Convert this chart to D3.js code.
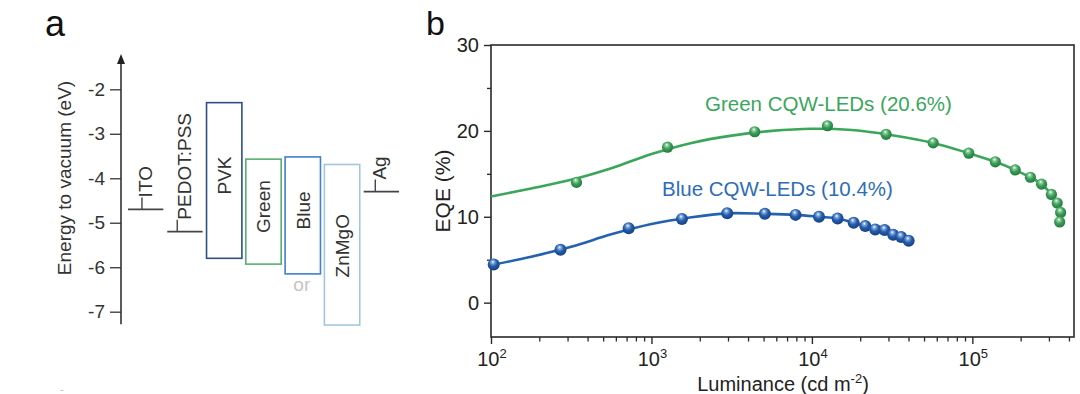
<!DOCTYPE html>
<html><head><meta charset="utf-8">
<script src="https://cdn.jsdelivr.net/npm/d3@7"></script>
<style>
body{margin:0;background:#fff}
svg{display:block;font-family:"Liberation Sans",Arial,Helvetica,sans-serif}
</style>
</head><body>
<svg id="c" width="1080" height="394"></svg>
<script>
// ---------- Panel a data ----------
const energyTicks = [-2, -3, -4, -5, -6, -7];
const layerNames = ["ITO", "PEDOT:PSS", "PVK", "Green", "Blue", "ZnMgO", "Ag"];
const electrodeNames = ["ITO", "PEDOT:PSS", "Ag"];
const electrodeLevels = [-4.7, -5.2, -4.3];
const boxNames = ["PVK", "Green", "Blue", "ZnMgO"];
const boxLUMO = [-2.3, -3.57, -3.52, -3.69];
const boxHOMO = [-5.8, -5.93, -6.15, -7.3];

// ---------- Panel b data ----------
const xTickExponents = [2, 3, 4, 5];
const yTicksB = [0, 10, 20, 30];
const yMinorB = [5, 15, 25];
const greenL   = [341, 1260, 4400, 12500, 29000, 57000, 95000, 139000, 185000, 230000, 270000, 311000, 338000, 355000, 350000];
const greenEQE = [14.0, 18.1, 19.9, 20.6, 19.6, 18.6, 17.4, 16.4, 15.45, 14.6, 13.8, 12.6, 11.6, 10.5, 9.4];
const greenFitL   = [100, 178, 316, 562, 1000, 1778, 3162, 5623, 10000, 17783, 31623, 57000, 95000, 139000, 185000, 230000, 270000, 311000, 338000, 355000, 350000];
const greenFitEQE = [12.35, 13.3, 14.3, 15.65, 17.3, 18.6, 19.45, 20.0, 20.25, 20.1, 19.5, 18.6, 17.4, 16.4, 15.45, 14.6, 13.8, 12.6, 11.6, 10.5, 9.4];
const blueL   = [104, 271, 721, 1549, 2966, 5093, 7910, 11070, 14460, 18200, 21500, 24800, 28400, 32100, 36000, 40100];
const blueEQE = [4.45, 6.15, 8.67, 9.74, 10.4, 10.34, 10.22, 10.0, 9.8, 9.31, 8.92, 8.53, 8.45, 7.91, 7.64, 7.21];
const blueFitL   = [100, 178, 316, 562, 1000, 1778, 2966, 5093, 7910, 11070, 14460, 18200, 21500, 24800, 28400, 32100, 36000, 40100];
const blueFitEQE = [4.36, 5.35, 6.5, 7.95, 9.15, 9.95, 10.4, 10.34, 10.22, 10.0, 9.8, 9.31, 8.92, 8.6, 8.35, 7.93, 7.6, 7.21];
const greenLabel = "Green CQW-LEDs (20.6%)";
const blueLabel = "Blue CQW-LEDs (10.4%)";

const svg = d3.select("#c");
const axisColor = "#2a2a2a";

// ================= Panel a =================
const yA = d3.scaleLinear().domain([-2, -7]).range([89.3, 311.7]);
const xA = d3.scaleBand().domain(layerNames).range([126, 401]).paddingInner(0.1).paddingOuter(0.05);
const gA = svg.append("g");

gA.append("text").attr("x", 45).attr("y", 36).attr("font-size", 36).attr("fill", "#111").text("a");

const axA = gA.append("g").attr("transform", "translate(121,0)")
  .call(d3.axisLeft(yA).tickValues(energyTicks).tickSize(11).tickPadding(5).tickFormat(d => String(d)));
axA.select(".domain").remove();
axA.selectAll(".tick line").attr("stroke", "#444").attr("stroke-width", 1.4);
axA.selectAll(".tick text").attr("font-size", 19).attr("fill", "#333").attr("font-family", "Liberation Sans, Arial, sans-serif");
gA.append("line").attr("x1", 121).attr("x2", 121).attr("y1", yA(-7.28)).attr("y2", 62)
  .attr("stroke", "#333").attr("stroke-width", 1.6);
gA.append("path").attr("d", "M121,54 L117,64 L125,64 Z").attr("fill", "#222");

gA.append("text").attr("transform", "translate(64,178) rotate(-90)")
  .attr("text-anchor", "middle").attr("dy", "0.35em").attr("font-size", 19).attr("fill", "#333")
  .text("Energy to vacuum (eV)");

// electrode levels
const elOffsets = {"ITO": [14, 24], "PEDOT:PSS": [10, 24], "Ag": [11.6, 22.6]};
electrodeNames.forEach((n, i) => {
  const x0 = xA(n), w = xA.bandwidth(), y = yA(electrodeLevels[i]);
  gA.append("line").attr("x1", x0).attr("x2", x0 + w).attr("y1", y).attr("y2", y)
    .attr("stroke", "#444").attr("stroke-width", 1.6);
  const bx = x0 + elOffsets[n][0];
  gA.append("line").attr("x1", bx).attr("x2", bx).attr("y1", y).attr("y2", y - 12)
    .attr("stroke", "#444").attr("stroke-width", 1.4);
  gA.append("text").attr("transform", "translate(" + (x0 + elOffsets[n][1]) + "," + (y - 12) + ") rotate(-90)")
    .attr("font-size", 19).attr("fill", "#333").text(n);
});

// boxes
const boxColors = {"PVK": "#2f4f86", "Green": "#55b06e", "Blue": "#3f7fcf", "ZnMgO": "#a3c6de"};
boxNames.forEach((n, i) => {
  const x0 = xA(n), w = xA.bandwidth();
  const y1 = yA(boxLUMO[i]), y2 = yA(boxHOMO[i]);
  gA.append("rect").attr("x", x0).attr("y", y1).attr("width", w).attr("height", y2 - y1)
    .attr("fill", "none").attr("stroke", boxColors[n]).attr("stroke-width", 1.6);
  const cy = (y1 + y2) / 2 - (n === "ZnMgO" ? -1 : 5);
  gA.append("text").attr("transform", "translate(" + (x0 + w / 2) + "," + cy + ") rotate(-90)")
    .attr("text-anchor", "middle").attr("dy", "0.36em").attr("font-size", 19).attr("fill", "#333").text(n);
});
gA.append("text").attr("x", xA("Blue") + xA.bandwidth() / 2 - 1).attr("y", yA(-6.15) + 17)
  .attr("text-anchor", "middle").attr("font-size", 19).attr("fill", "#c4c4c4").text("or");
gA.append("text").attr("x", 62).attr("y", 393).attr("text-anchor", "middle")
  .attr("font-size", 10).attr("fill", "#bbb").text("-");

// ================= Panel b =================
const xB = d3.scaleLog().domain([100, 430000]).range([491, 1074]);
const yB = d3.scaleLinear().domain([-4, 30]).range([337, 45]);
const gB = svg.append("g");

gB.append("text").attr("x", 426).attr("y", 35).attr("font-size", 34).attr("fill", "#111").text("b");

const xMinor = [];
[100, 1000, 10000, 100000].forEach(dec => { for (let k = 2; k <= 9; k++) { const v = dec * k; if (v < 430000) xMinor.push(v); } });
const axXm = gB.append("g").attr("transform", "translate(0,337)")
  .call(d3.axisBottom(xB).tickValues(xMinor).tickSize(4.5).tickFormat(""));
axXm.select(".domain").remove();
axXm.selectAll("line").attr("stroke", axisColor).attr("stroke-width", 1.3);

const axX = gB.append("g").attr("transform", "translate(0,337)")
  .call(d3.axisBottom(xB).tickValues(xTickExponents.map(e => Math.pow(10, e))).tickSize(7).tickFormat(""));
axX.select(".domain").remove();
axX.selectAll("line").attr("stroke", axisColor).attr("stroke-width", 1.4);
xTickExponents.forEach(e => {
  const t = gB.append("text").attr("x", xB(Math.pow(10, e)) + 1).attr("y", 366)
    .attr("text-anchor", "middle").attr("font-size", 20).attr("fill", "#222");
  t.append("tspan").text("10");
  t.append("tspan").attr("dy", -8).attr("font-size", 13).text(String(e));
});

const axYm = gB.append("g").attr("transform", "translate(491,0)")
  .call(d3.axisLeft(yB).tickValues(yMinorB).tickSize(4).tickFormat(""));
axYm.select(".domain").remove();
axYm.selectAll("line").attr("stroke", axisColor).attr("stroke-width", 1.3);
const axY = gB.append("g").attr("transform", "translate(491,0)")
  .call(d3.axisLeft(yB).tickValues(yTicksB).tickSize(7).tickPadding(5));
axY.select(".domain").remove();
axY.selectAll("line").attr("stroke", axisColor).attr("stroke-width", 1.4);
axY.selectAll("text").attr("font-size", 20).attr("fill", "#222").attr("font-family", "Liberation Sans, Arial, sans-serif");

gB.append("rect").attr("x", xB.range()[0]).attr("y", yB.range()[1])
  .attr("width", xB.range()[1] - xB.range()[0]).attr("height", yB.range()[0] - yB.range()[1])
  .attr("fill", "none").attr("stroke", axisColor).attr("stroke-width", 1.6);

const xt = gB.append("text").attr("x", 783).attr("y", 391).attr("text-anchor", "middle")
  .attr("font-size", 20).attr("fill", "#222");
xt.append("tspan").text("Luminance (cd m");
xt.append("tspan").attr("dy", -8).attr("font-size", 13).text("-2");
xt.append("tspan").attr("dy", 8).text(")");
gB.append("text").attr("transform", "translate(443,191) rotate(-90)").attr("text-anchor", "middle")
  .attr("dy", "0.35em").attr("font-size", 21).attr("fill", "#222").text("EQE (%)");

const defs = svg.append("defs");
function sphere(id, light, mid, dark) {
  const g = defs.append("radialGradient").attr("id", id).attr("cx", "45%").attr("cy", "40%").attr("r", "60%")
    .attr("fx", "42%").attr("fy", "28%");
  g.append("stop").attr("offset", "0%").attr("stop-color", "#ffffff");
  g.append("stop").attr("offset", "22%").attr("stop-color", light);
  g.append("stop").attr("offset", "55%").attr("stop-color", mid);
  g.append("stop").attr("offset", "100%").attr("stop-color", dark);
}
sphere("gG", "#8fcc9f", "#3a9e58", "#23793c");
sphere("gB", "#7fa6da", "#235dac", "#163f80");

const line = d3.line().x(d => xB(d[0])).y(d => yB(d[1])).curve(d3.curveCatmullRom.alpha(0.5));
const gFit = greenFitL.map((l, i) => [l, greenFitEQE[i]]);
const bFit = blueFitL.map((l, i) => [l, blueFitEQE[i]]);
gB.append("path").attr("d", line(gFit)).attr("fill", "none").attr("stroke", "#3aa65a").attr("stroke-width", 2.6);
gB.append("path").attr("d", line(bFit)).attr("fill", "none").attr("stroke", "#2262ae").attr("stroke-width", 2.6);

gB.append("g").selectAll("circle").data(greenL.map((l, i) => [l, greenEQE[i]])).join("circle")
  .attr("cx", d => xB(d[0])).attr("cy", d => yB(d[1])).attr("r", 5.6).attr("fill", "url(#gG)");
gB.append("g").selectAll("circle").data(blueL.map((l, i) => [l, blueEQE[i]])).join("circle")
  .attr("cx", d => xB(d[0])).attr("cy", d => yB(d[1])).attr("r", 6).attr("fill", "url(#gB)");

gB.append("text").attr("x", 705).attr("y", 111).attr("font-size", 20.5).attr("fill", "#3aa65e").text(greenLabel);
gB.append("text").attr("x", 662).attr("y", 196).attr("font-size", 20.5).attr("fill", "#2e6cb8").text(blueLabel);
</script>
</body></html>
